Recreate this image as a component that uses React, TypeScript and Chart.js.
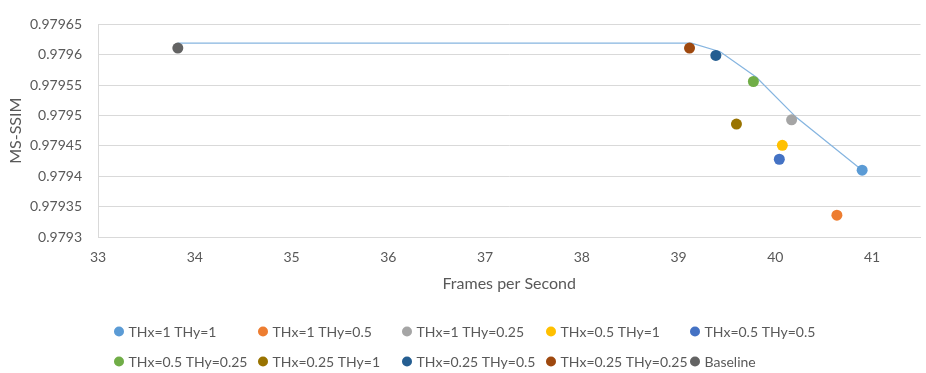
import React, { useEffect, useRef } from 'react';
import { Chart, registerables } from 'chart.js';

Chart.register(...registerables);

// ---- Data ----
const seriesNames = [
  'THx=1 THy=1',
  'THx=1 THy=0.5',
  'THx=1 THy=0.25',
  'THx=0.5 THy=1',
  'THx=0.5 THy=0.5',
  'THx=0.5 THy=0.25',
  'THx=0.25 THy=1',
  'THx=0.25 THy=0.5',
  'THx=0.25 THy=0.25',
  'Baseline',
];
const seriesColors = [
  '#5B9BD5',
  '#ED7D31',
  '#A5A5A5',
  '#FFC000',
  '#4472C4',
  '#70AD47',
  '#997300',
  '#255E91',
  '#9E480E',
  '#636363',
];
const fpsValues = [40.897, 40.636, 40.168, 40.072, 40.041, 39.773, 39.598, 39.385, 39.113, 33.825];
const ssimValues = [0.97941, 0.979336, 0.979493, 0.979451, 0.979428, 0.979556, 0.979486, 0.979599, 0.979611, 0.979611];

const frontierFps = [33.825, 39.134, 39.43, 39.804, 40.216, 40.897];
const frontierSsim = [0.979619, 0.979619, 0.979605, 0.979563, 0.979497, 0.97941];

const xTickValues = [33, 34, 35, 36, 37, 38, 39, 40, 41];
const yTickValues = [0.9793, 0.97935, 0.9794, 0.97945, 0.9795, 0.97955, 0.9796, 0.97965];
const yTickLabels = ['0.9793', '0.97935', '0.9794', '0.97945', '0.9795', '0.97955', '0.9796', '0.97965'];

const FONT = 'Lato, "Open Sans", sans-serif';
const TEXT = '#595959';

const gridLegend = {
  id: 'gridLegend',
  afterDraw(chart: any) {
    const ctx = chart.ctx as CanvasRenderingContext2D;
    ctx.save();
    ctx.font = `14px ${FONT}`;
    ctx.textBaseline = 'middle';
    ctx.textAlign = 'left';
    seriesNames.forEach((name, i) => {
      const col = i % 5;
      const row = Math.floor(i / 5);
      const cx = 119 + col * 144;
      const cy = 331.5 + row * 30;
      ctx.beginPath();
      ctx.fillStyle = seriesColors[i];
      ctx.arc(cx, cy, 5, 0, Math.PI * 2);
      ctx.fill();
      ctx.fillStyle = TEXT;
      ctx.fillText(name, cx + 9.5, cy + 0.5);
    });
    ctx.restore();
  },
};

export default function App() {
  const ref = useRef<HTMLCanvasElement | null>(null);

  useEffect(() => {
    document.body.style.margin = '0';
    if (!ref.current) return;

    const datasets: any[] = seriesNames.map((name, i) => ({
      label: name,
      data: [{ x: fpsValues[i], y: ssimValues[i] }],
      backgroundColor: seriesColors[i],
      borderColor: seriesColors[i],
      pointRadius: 5.5,
      pointBorderWidth: 0,
      showLine: false,
    }));
    datasets.push({
      label: 'Frontier',
      data: frontierFps.map((x, i) => ({ x, y: frontierSsim[i] })),
      borderColor: '#86B5E0',
      borderWidth: 1.25,
      pointRadius: 0,
      showLine: true,
      tension: 0,
    });

    const chart = new Chart(ref.current, {
      type: 'scatter',
      data: { datasets },
      plugins: [gridLegend],
      options: {
        animation: false,
        responsive: true,
        maintainAspectRatio: false,
        layout: { padding: { left: 0, right: 3.5, top: 10, bottom: 76 } },
        font: { family: FONT },
        plugins: {
          legend: { display: false },
          tooltip: { enabled: false },
        },
        scales: {
          x: {
            type: 'linear',
            min: 33,
            max: 41.5,
            afterBuildTicks: (scale: any) => {
              scale.ticks = xTickValues.map((v) => ({ value: v }));
            },
            afterFit: (scale: any) => {
              scale.height = 60;
            },
            grid: { display: false, drawTicks: false },
            border: { display: true, color: '#D9D9D9', width: 1 },
            ticks: {
              color: TEXT,
              font: { family: FONT, size: 14 },
              padding: 12,
              maxRotation: 0,
              autoSkip: false,
              callback: (v: any) => String(v),
            },
            title: {
              display: true,
              text: 'Frames per Second',
              color: TEXT,
              font: { family: FONT, size: 16 },
              padding: { top: 0, bottom: 4 },
            },
          },
          y: {
            type: 'linear',
            min: 0.9793,
            max: 0.97965,
            afterBuildTicks: (scale: any) => {
              scale.ticks = yTickValues.map((v) => ({ value: v }));
            },
            afterFit: (scale: any) => {
              scale.width = 98;
            },
            grid: { display: true, color: '#D9D9D9', lineWidth: 1, drawTicks: false },
            border: { display: true, color: '#D9D9D9', width: 1 },
            ticks: {
              color: TEXT,
              font: { family: FONT, size: 14 },
              padding: 16,
              autoSkip: false,
              callback: (_v: any, idx: number) => yTickLabels[idx],
            },
            title: {
              display: true,
              text: 'MS-SSIM',
              color: TEXT,
              font: { family: FONT, size: 16 },
              padding: { top: 6, bottom: 0 },
            },
          },
        },
      } as any,
    });

    return () => chart.destroy();
  }, []);

  return (
    <div style={{ width: 926, height: 373, position: 'relative' }}>
      <canvas ref={ref} />
    </div>
  );
}
